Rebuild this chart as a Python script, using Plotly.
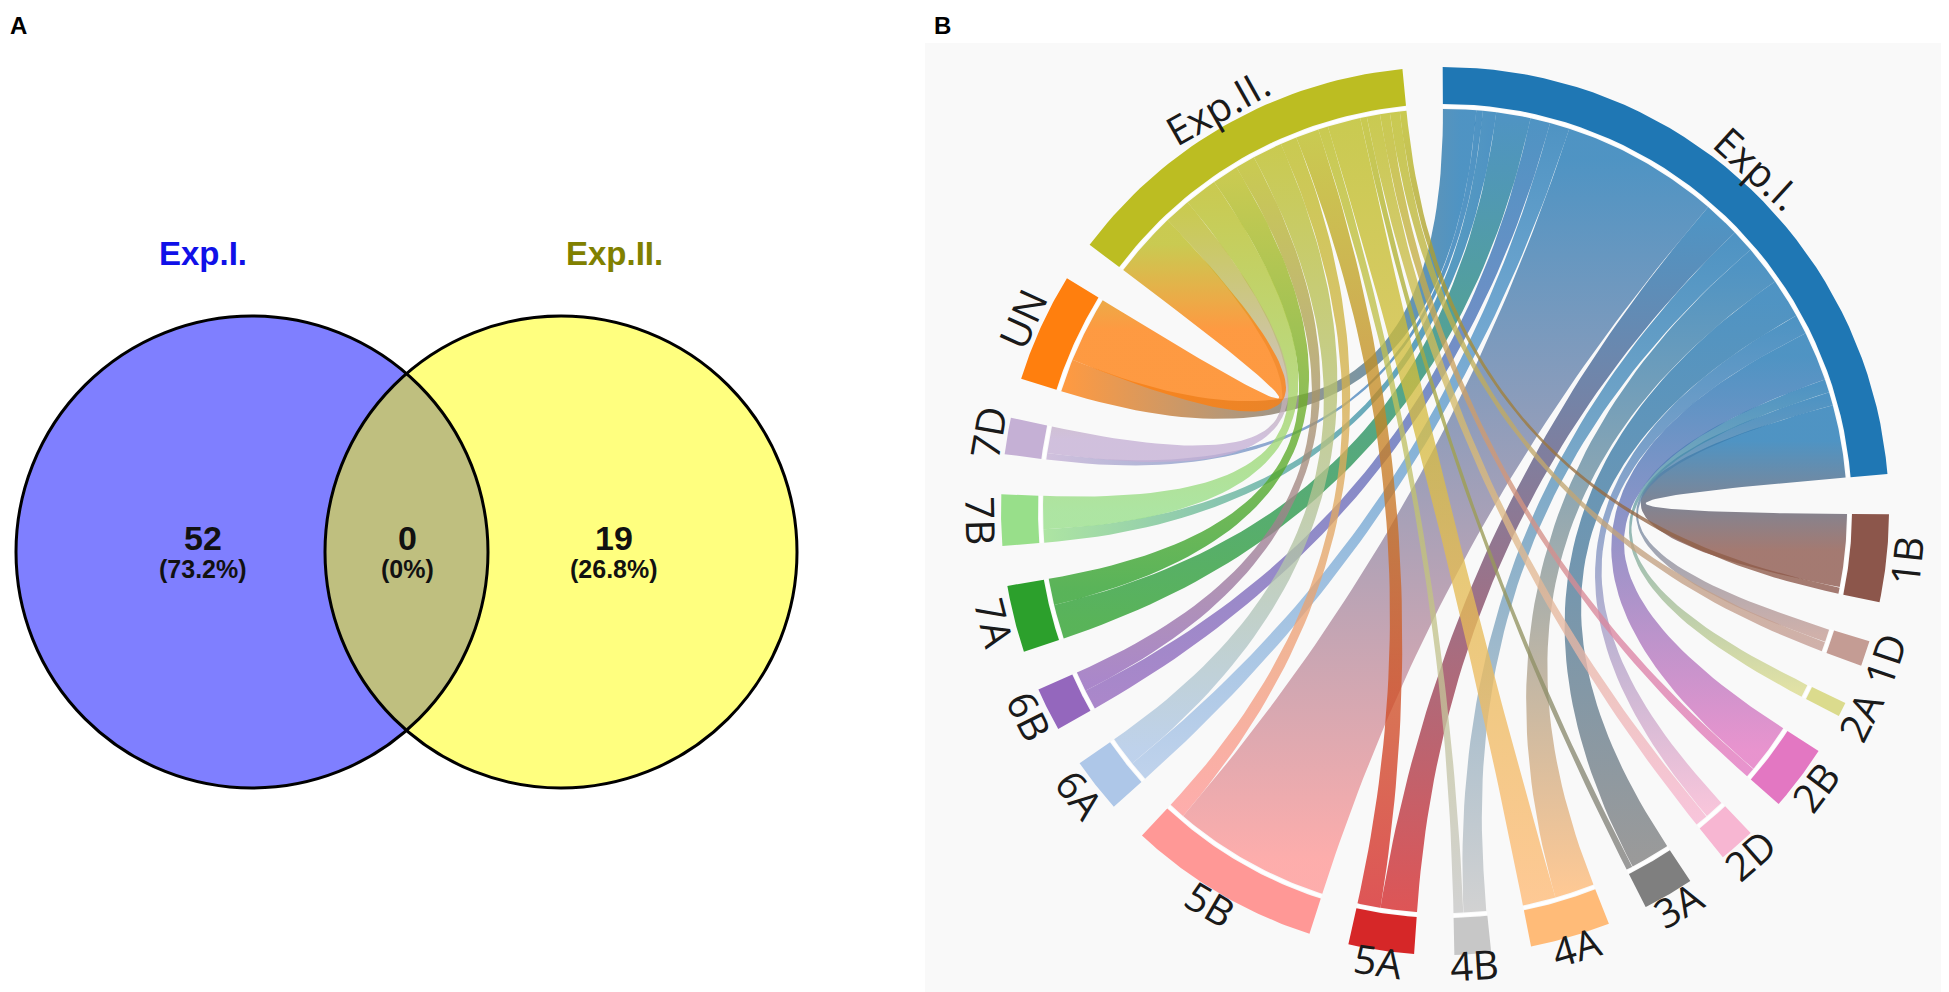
import numpy as np
import plotly.graph_objects as go

# ---- panel A: Venn counts (only Exp.I, shared, only Exp.II)
venn_names = ["Exp.I.", "Exp.II."]
venn_counts = [52, 0, 19]

chromosomes = ["1B", "1D", "2A", "2B", "2D", "3A", "4A", "4B",
               "5A", "5B", "6A", "6B", "7A", "7B", "7D", "UN"]
exp1_links = [11, 2, 2, 7.5, 3, 6, 6, 3.5, 5.5, 24, 3, 3, 5.2, 2, 1, 5]
exp2_links = [1, 1.5, 0, 1.5, 2, 1, 5, 1.5, 3.5, 2.5, 4.5, 3, 4, 5, 4, 10]

colors = {
    "Exp.I.": "#1f77b4", "Exp.II.": "#bcbd22",
    "1B": "#8c564b", "1D": "#c49c94", "2A": "#dbdb8d", "2B": "#e377c2",
    "2D": "#f7b6d2", "3A": "#7f7f7f", "4A": "#ffbb78", "4B": "#c7c7c7",
    "5A": "#d62728", "5B": "#ff9896", "6A": "#aec7e8", "6B": "#9467bd",
    "7A": "#2ca02c", "7B": "#98df8a", "7D": "#c5b0d5", "UN": "#ff7f0e",
}


def rgba(hex_col, a):
    h = hex_col.lstrip("#")
    r, g, b = int(h[0:2], 16), int(h[2:4], 16), int(h[4:6], 16)
    return f"rgba({r},{g},{b},{a})"


fig = go.Figure()

# ================= panel A =================
total = sum(venn_counts)
blue_c = (244, 544)
yell_c = (553, 544)
rad = 236
fig.add_shape(type="circle", x0=blue_c[0] - rad, x1=blue_c[0] + rad,
              y0=blue_c[1] - rad, y1=blue_c[1] + rad,
              fillcolor="rgba(0,0,255,0.5)", line=dict(width=0))
fig.add_shape(type="circle", x0=yell_c[0] - rad, x1=yell_c[0] + rad,
              y0=yell_c[1] - rad, y1=yell_c[1] + rad,
              fillcolor="rgba(255,255,0,0.5)", line=dict(width=0))
for c in (blue_c, yell_c):
    fig.add_shape(type="circle", x0=c[0] - rad, x1=c[0] + rad,
                  y0=c[1] - rad, y1=c[1] + rad,
                  line=dict(color="black", width=3))

vfont = "Liberation Sans, Arial, sans-serif"
label_x = [195, 399, 606]
for xx, n in zip(label_x, venn_counts):
    pct = 100 * n / total
    ptxt = f"({pct:.1f}%)" if n else "(0%)"
    fig.add_annotation(x=xx, y=530, text=str(n), showarrow=False,
                       font=dict(family=vfont, size=34, color="#111", weight="bold"))
    fig.add_annotation(x=xx, y=561, text=ptxt, showarrow=False,
                       font=dict(family=vfont, size=25, color="#111", weight="bold"))
fig.add_annotation(x=195, y=245, text=venn_names[0], showarrow=False,
                   font=dict(family=vfont, size=33, color="#1010e8", weight="bold"))
fig.add_annotation(x=606, y=245, text=venn_names[1], showarrow=False,
                   font=dict(family=vfont, size=33, color="#808000", weight="bold"))

fig.add_annotation(x=10, y=17, text="A", showarrow=False,
                   font=dict(family=vfont, size=24, color="black", weight="bold"))
fig.add_annotation(x=934, y=17, text="B", showarrow=False,
                   font=dict(family=vfont, size=24, color="black", weight="bold"))

# ================= panel B =================
fig.add_shape(type="rect", x0=917, x1=1949, y0=35, y1=992,
              fillcolor="#f9f9f9", line=dict(width=0), layer="below")

cx, cy = 1437, 503
r_chord, r_in, r_out = 402, 407, 444
gap = 5.2
start = -0.3

groups = ["Exp.I."] + chromosomes + ["Exp.II."]
sizes = [sum(exp1_links)] + [a + b for a, b in zip(exp1_links, exp2_links)] + [sum(exp2_links)]
k = (360 - gap * len(groups)) / sum(sizes)

g_start, g_end = {}, {}
ang = start
for g, s in zip(groups, sizes):
    g_start[g] = ang
    g_end[g] = ang + s * k
    ang = g_end[g] + gap


def pt(theta, r):
    t = np.radians(theta)
    return cx + r * np.sin(t), cy - r * np.cos(t)


def arc(a0, a1, r, n=40):
    t = np.radians(np.linspace(a0, a1, n))
    return cx + r * np.sin(t), cy - r * np.cos(t)


def bez(p0, p2, n=60):
    u = np.linspace(0, 1, n)
    x = (1 - u) ** 2 * p0[0] + 2 * u * (1 - u) * cx + u ** 2 * p2[0]
    y = (1 - u) ** 2 * p0[1] + 2 * u * (1 - u) * cy + u ** 2 * p2[1]
    return x, y


# sub-spans: experiments list chromosomes from UN back to 1B, chromosomes put Exp.I first
sub = {}
pos1, pos2 = g_start["Exp.I."], g_start["Exp.II."]
for i in reversed(range(len(chromosomes))):
    c = chromosomes[i]
    sub[("Exp.I.", c, "e")] = (pos1, pos1 + exp1_links[i] * k)
    pos1 += exp1_links[i] * k
    sub[("Exp.II.", c, "e")] = (pos2, pos2 + exp2_links[i] * k)
    pos2 += exp2_links[i] * k
for i, c in enumerate(chromosomes):
    p = g_start[c]
    sub[("Exp.I.", c, "c")] = (p, p + exp1_links[i] * k)
    p += exp1_links[i] * k
    sub[("Exp.II.", c, "c")] = (p, p + exp2_links[i] * k)

alpha = 0.78
for exp, vals in (("Exp.I.", exp1_links), ("Exp.II.", exp2_links)):
    for i, c in enumerate(chromosomes):
        if vals[i] <= 0:
            continue
        s0, s1 = sub[(exp, c, "e")]
        t0, t1 = sub[(exp, c, "c")]
        xa, ya = arc(s0, s1, r_chord)
        xb, yb = bez(pt(s1, r_chord), pt(t0, r_chord))
        xc, yc = arc(t0, t1, r_chord)
        xd, yd = bez(pt(t1, r_chord), pt(s0, r_chord))
        xs = np.concatenate([xa, xb, xc, xd])
        ys = np.concatenate([ya, yb, yc, yd])
        ps = pt((s0 + s1) / 2, r_chord)
        pe = pt((t0 + t1) / 2, r_chord)
        c0, c1 = rgba(colors[exp], alpha), rgba(colors[c], alpha)
        dx, dy = pe[0] - ps[0], pe[1] - ps[1]
        if abs(dx) >= abs(dy):
            gtype, ga, gb = "horizontal", ps[0], pe[0]
        else:
            gtype, ga, gb = "vertical", ps[1], pe[1]
        if ga > gb:
            ga, gb, c0, c1 = gb, ga, c1, c0
        fig.add_trace(go.Scatter(
            x=xs, y=ys, mode="lines", fill="toself", line=dict(width=0),
            fillgradient=dict(type=gtype, start=ga, stop=gb,
                              colorscale=[[0, c0], [1, c1]]),
            hoverinfo="skip", showlegend=False))

# outer ring, white separator and labels
lfont = "Open Sans, Noto Sans, sans-serif"
for g in groups:
    a0, a1 = g_start[g], g_end[g]
    xo, yo = arc(a0, a1, r_out)
    xi, yi = arc(a1, a0, r_in)
    fig.add_trace(go.Scatter(
        x=np.concatenate([xo, xi]), y=np.concatenate([yo, yi]),
        mode="lines", fill="toself", fillcolor=colors[g], line=dict(width=0),
        hoverinfo="skip", showlegend=False))
    xw, yw = arc(a0, a1, (r_in + r_chord) / 2)
    fig.add_trace(go.Scatter(x=xw, y=yw, mode="lines",
                             line=dict(color="white", width=3),
                             hoverinfo="skip", showlegend=False))
    mid = (a0 + a1) / 2
    m = mid % 360
    rot = m - 180 if 90 < m < 270 else (m if m <= 90 else m - 360)
    lx, ly = pt(mid, 464)
    # labels at the very bottom are lifted a little so they stay inside the page
    ly -= 10 * max(0.0, -np.cos(np.radians(mid))) ** 2
    fig.add_annotation(x=lx, y=ly, text=g, showarrow=False, textangle=rot,
                       xanchor="center", yanchor="middle",
                       font=dict(family=lfont, size=40, color="#1a1a1a"))

fig.update_xaxes(range=[0, 1949], visible=False)
fig.update_yaxes(range=[992, 0], visible=False)
fig.update_layout(width=1949, height=992, margin=dict(l=0, r=0, t=0, b=0),
                  plot_bgcolor="white", paper_bgcolor="white", showlegend=False)

fig.write_html("out.html")
